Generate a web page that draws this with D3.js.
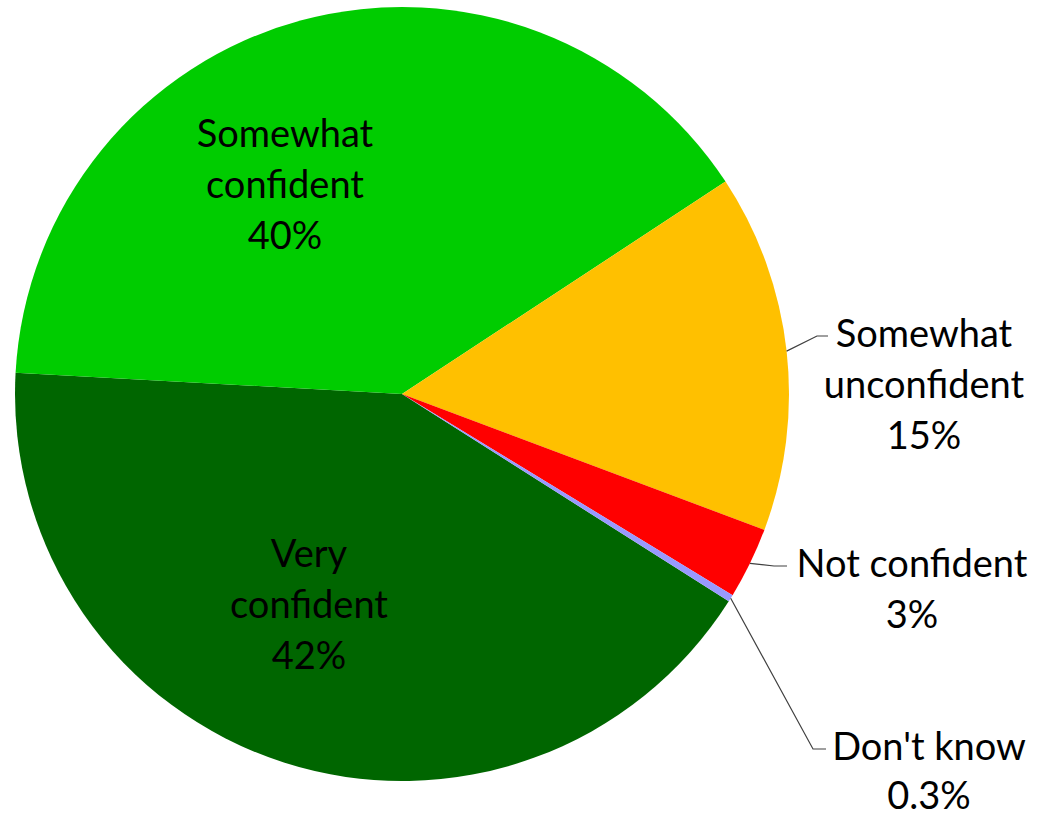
<!DOCTYPE html>
<html>
<head>
<meta charset="utf-8">
<script src="https://cdn.jsdelivr.net/npm/d3@7"></script>
<style>
  html, body { margin: 0; padding: 0; background: #ffffff; }
  svg text { font-family: Lato, "Open Sans", sans-serif; fill: #000; }
</style>
</head>
<body>
<svg id="chart" width="1038" height="818"></svg>
<script>
// Survey responses: confidence level
const categories = ["Very confident", "Somewhat confident", "Somewhat unconfident", "Not confident", "Don't know"];
const labelLines = [["Very", "confident"], ["Somewhat", "confident"], ["Somewhat", "unconfident"], ["Not confident"], ["Don't know"]];
const values = [42, 40, 15, 3, 0.3];
const valueLabels = ["42%", "40%", "15%", "3%", "0.3%"];
const colors = ["#006600", "#00CC00", "#FFC000", "#FF0000", "#9999FF"];

// Layout
const cx = 402, cy = 394, radius = 387;
const startDeg = 122.4;
const fontSize = 38, lineGap = 51;
// label anchors (center x, first baseline) relative to pie center; outside labels get leader lines
const labelPlacement = [
  { dx: -93, dy: 173, outside: false },
  { dx: -117, dy: -247, outside: false },
  { dx: 522, dy: -47, outside: true, elbowX: 415, textX: 426 },
  { dx: 510, dy: 183, outside: true, elbowX: 372, textX: 385 },
  { dx: 527, dy: 366, outside: true, elbowX: 411, textX: 424, gap: 49 }
];

const svg = d3.select("#chart");
const g = svg.append("g").attr("transform", `translate(${cx},${cy})`);

const data = categories.map((c, i) => ({ name: c, value: values[i], i }));

const pie = d3.pie()
  .sort(null)
  .value(d => d.value)
  .startAngle(startDeg * Math.PI / 180)
  .endAngle(startDeg * Math.PI / 180 + 2 * Math.PI);

const arcs = pie(data);
const arc = d3.arc().innerRadius(0).outerRadius(radius);

g.selectAll("path.slice")
  .data(arcs)
  .join("path")
  .attr("class", "slice")
  .attr("d", arc)
  .attr("fill", d => colors[d.data.i]);

// leader lines for labels placed outside the pie
arcs.forEach(a => {
  const p = labelPlacement[a.data.i];
  if (!p.outside) return;
  const mid = (a.startAngle + a.endAngle) / 2;
  const sx = radius * Math.sin(mid), sy = -radius * Math.cos(mid);
  const lineY = p.dy - 11;
  g.append("path")
    .attr("d", d3.line()([[sx, sy], [p.elbowX, lineY], [p.textX, lineY]]))
    .attr("fill", "none")
    .attr("stroke", "#404040")
    .attr("stroke-width", 1.2);
});

// labels
arcs.forEach(a => {
  const i = a.data.i;
  const p = labelPlacement[i];
  const gap = p.gap || lineGap;
  const lines = labelLines[i].concat([valueLabels[i]]);
  const t = g.append("text")
    .attr("text-anchor", "middle")
    .attr("font-size", fontSize);
  lines.forEach((ln, k) => {
    t.append("tspan")
      .attr("x", p.dx)
      .attr("y", p.dy + k * gap)
      .text(ln);
  });
});
</script>
</body>
</html>
